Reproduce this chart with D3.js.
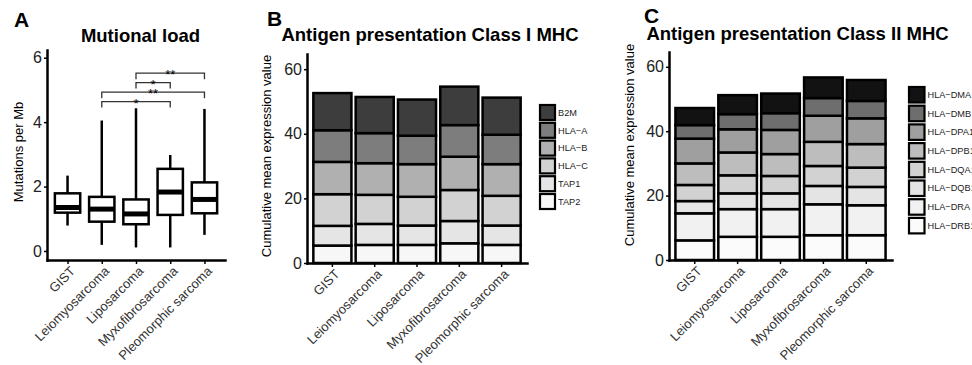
<!DOCTYPE html>
<html>
<head>
<meta charset="utf-8">
<script src="https://cdn.jsdelivr.net/npm/d3@7"></script>
<style>
    body { margin: 0; background: #fff; }
    text { font-family: "Liberation Sans", Arial, sans-serif; }
</style>
</head>
<body>
<svg id="chart" width="972" height="365"></svg>
<script>
const categories = ['GIST', 'Leiomyosarcoma', 'Liposarcoma', 'Myxofibrosarcoma', 'Pleomorphic sarcoma'];

// panel A - box stats, mutations per Mb
const mutLow = [0.79, 0.19, 0.11, 0.11, 0.50];
const mutQ1 = [1.19, 0.91, 0.83, 1.12, 1.17];
const mutMedian = [1.35, 1.30, 1.15, 1.83, 1.60];
const mutQ3 = [1.79, 1.68, 1.60, 2.55, 2.13];
const mutHigh = [2.34, 4.05, 4.43, 2.98, 4.41];
const mutTicks = [0, 2, 4, 6];

const sigFrom = ['Liposarcoma', 'Liposarcoma', 'Leiomyosarcoma', 'Leiomyosarcoma'];
const sigTo = ['Pleomorphic sarcoma', 'Myxofibrosarcoma', 'Pleomorphic sarcoma', 'Myxofibrosarcoma'];
const sigY = [5.52, 5.23, 4.93, 4.64];
const sigLabel = ['**', '*', '**', '*'];

// panel B - class I genes (legend order, top of stack first)
const classOneGenes = ['B2M', 'HLA\u2212A', 'HLA\u2212B', 'HLA\u2212C', 'TAP1', 'TAP2'];
const b2m = [11.5, 11.2, 11.2, 11.9, 11.5];
const hlaA = [9.8, 9.3, 8.8, 9.8, 9.1];
const hlaB = [10.0, 9.8, 10.1, 10.3, 9.8];
const hlaC = [9.8, 9.0, 8.9, 9.6, 9.2];
const tap1 = [6.1, 6.5, 6.0, 6.9, 6.0];
const tap2 = [5.4, 5.6, 5.6, 6.1, 5.6];
const classOneSeries = [b2m, hlaA, hlaB, hlaC, tap1, tap2];
const classOneFill = ['#3d3d3d', '#7d7d7d', '#b0b0b0', '#d2d2d2', '#e5e5e5', '#f7f7f7'];

// panel C - class II genes
const classTwoGenes = ['HLA\u2212DMA', 'HLA\u2212DMB', 'HLA\u2212DPA1', 'HLA\u2212DPB1', 'HLA\u2212DQA1', 'HLA\u2212DQB1', 'HLA\u2212DRA', 'HLA\u2212DRB1'];
const hlaDMA = [5.3, 5.9, 6.1, 6.4, 6.5];
const hlaDMB = [4.2, 4.7, 5.2, 5.5, 5.4];
const hlaDPA1 = [7.7, 7.2, 7.5, 8.1, 8.0];
const hlaDPB1 = [6.7, 7.1, 6.8, 7.5, 7.3];
const hlaDQA1 = [5.0, 5.6, 5.4, 6.2, 6.0];
const hlaDQB1 = [3.8, 4.9, 4.9, 5.7, 5.7];
const hlaDRA = [8.4, 8.6, 8.6, 9.6, 9.3];
const hlaDRB1 = [6.1, 7.2, 7.2, 7.7, 7.7];
const classTwoSeries = [hlaDMA, hlaDMB, hlaDPA1, hlaDPB1, hlaDQA1, hlaDQB1, hlaDRA, hlaDRB1];
const classTwoFill = ['#121212', '#6e6e6e', '#9f9f9f', '#bdbdbd', '#d2d2d2', '#e4e4e4', '#f1f1f1', '#fbfbfb'];

const barTicks = [0, 20, 40, 60];

const svg = d3.select('#chart');
svg.append('rect').attr('width', 972).attr('height', 365).attr('fill', '#fff');

const lineWidth = 2.5;

function styleAxis(g) {
    g.select('.domain')
        .attr('stroke', '#000')
        .attr('stroke-width', lineWidth)
        .attr('stroke-linecap', 'square');
    g.selectAll('.tick line').attr('stroke', '#000').attr('stroke-width', 1.5);
    g.selectAll('.tick text')
        .attr('fill', '#222')
        .style('font-size', '16px');
}

function drawXAxis(x, yPos) {
    const g = svg.append('g')
        .attr('transform', `translate(0, ${yPos})`)
        .call(d3.axisBottom(x).tickSize(4).tickSizeOuter(0));
    styleAxis(g);
    g.selectAll('.tick text')
        .attr('x', 0)
        .attr('y', 0)
        .attr('dy', '0.75em')
        .attr('text-anchor', 'end')
        .attr('transform', 'translate(1, 5) rotate(-45)')
        .attr('fill', '#333')
        .style('font-size', '13px');
}

function drawYAxis(y, xPos, ticks) {
    const g = svg.append('g')
        .attr('transform', `translate(${xPos}, 0)`)
        .call(d3.axisLeft(y).tickValues(ticks).tickFormat(d3.format('d'))
            .tickSize(3).tickPadding(2).tickSizeOuter(0));
    styleAxis(g);
}

function headings(letter, lx, ly, title, tx, ty, yLabel, yx, yy) {
    svg.append('text')
        .attr('x', lx).attr('y', ly)
        .style('font-size', '21px').style('font-weight', 'bold')
        .text(letter);
    svg.append('text')
        .attr('x', tx).attr('y', ty)
        .attr('text-anchor', 'middle')
        .style('font-size', '18.5px').style('font-weight', 'bold')
        .text(title);
    svg.append('text')
        .attr('transform', `translate(${yx}, ${yy}) rotate(-90)`)
        .attr('text-anchor', 'middle')
        .attr('dy', '0.35em')
        .style('font-size', '13px')
        .text(yLabel);
}

// ---- panel A ----
const xA = d3.scalePoint().domain(categories).range([47, 225]).padding(0.6);
const yA = d3.scaleLinear().domain([-0.28, 6.24]).range([260, 50]);
const boxWidth = xA.step() * 0.74;

const boxes = svg.append('g').selectAll('g')
    .data(categories)
    .join('g');

boxes.append('line')
    .attr('x1', d => xA(d)).attr('x2', d => xA(d))
    .attr('y1', (d, i) => yA(mutHigh[i])).attr('y2', (d, i) => yA(mutLow[i]))
    .attr('stroke', '#000').attr('stroke-width', lineWidth);

boxes.append('rect')
    .attr('x', d => xA(d) - boxWidth / 2)
    .attr('width', boxWidth)
    .attr('y', (d, i) => yA(mutQ3[i]))
    .attr('height', (d, i) => yA(mutQ1[i]) - yA(mutQ3[i]))
    .attr('fill', '#fff').attr('stroke', '#000').attr('stroke-width', lineWidth);

boxes.append('line')
    .attr('x1', d => xA(d) - boxWidth / 2).attr('x2', d => xA(d) + boxWidth / 2)
    .attr('y1', (d, i) => yA(mutMedian[i])).attr('y2', (d, i) => yA(mutMedian[i]))
    .attr('stroke', '#000').attr('stroke-width', 5);

const sig = svg.append('g').selectAll('g')
    .data(sigLabel)
    .join('g');

sig.append('path')
    .attr('d', (d, i) => {
        const x1 = xA(sigFrom[i]);
        const x2 = xA(sigTo[i]);
        const y = yA(sigY[i]);
        return `M${x1},${y + 6}V${y}H${x2}V${y + 6}`;
    })
    .attr('fill', 'none').attr('stroke', '#333').attr('stroke-width', 1.3);

sig.append('text')
    .attr('x', (d, i) => (xA(sigFrom[i]) + xA(sigTo[i])) / 2)
    .attr('y', (d, i) => yA(sigY[i]) + 6)
    .attr('text-anchor', 'middle')
    .style('font-size', '13px')
    .attr('fill', '#000')
    .text(d => d);

drawYAxis(yA, 47, mutTicks);
drawXAxis(xA, 260);
headings('A', 14, 27, 'Mutional load', 140.5, 42, 'Mutations per Mb', 18, 152);

// ---- stacked panels ----
function stackedPanel({ genes, series, fills, xRange, yRange, yMax, legendX, legendY, legendStep, swatch }) {
    const rows = categories.map((c, i) => {
        const row = { category: c };
        genes.forEach((g, k) => { row[g] = series[k][i]; });
        return row;
    });
    const keys = genes.slice().reverse();
    const stacked = d3.stack().keys(keys)(rows);
    const fill = d3.scaleOrdinal().domain(genes).range(fills);

    const x = d3.scaleBand().domain(categories).range(xRange).paddingInner(0.1).paddingOuter(0.15);
    const y = d3.scaleLinear().domain([0, yMax]).range(yRange);

    svg.append('g').selectAll('g')
        .data(stacked)
        .join('g')
        .attr('fill', d => fill(d.key))
        .selectAll('rect')
        .data(d => d)
        .join('rect')
        .attr('x', d => x(d.data.category))
        .attr('width', x.bandwidth())
        .attr('y', d => y(d[1]))
        .attr('height', d => y(d[0]) - y(d[1]))
        .attr('stroke', '#000')
        .attr('stroke-width', lineWidth);

    drawYAxis(y, xRange[0], barTicks);
    drawXAxis(x, yRange[0]);

    const legend = svg.append('g').selectAll('g')
        .data(genes)
        .join('g')
        .attr('transform', (d, i) => `translate(${legendX}, ${legendY + i * legendStep})`);
    legend.append('rect')
        .attr('width', swatch).attr('height', swatch)
        .attr('fill', d => fill(d))
        .attr('stroke', '#000').attr('stroke-width', 2.2);
    legend.append('text')
        .attr('x', swatch + 3).attr('y', swatch / 2)
        .attr('dy', '0.35em')
        .style('font-size', '9.2px')
        .attr('fill', '#222')
        .text(d => d);
}

stackedPanel({
    genes: classOneGenes,
    series: classOneSeries,
    fills: classOneFill,
    xRange: [307, 527],
    yRange: [263, 54],
    yMax: 64.7,
    legendX: 540,
    legendY: 105,
    legendStep: 17.8,
    swatch: 15
});
headings('B', 267, 26, 'Antigen presentation Class I MHC', 430, 41, 'Cumulative mean expression value', 266, 156);

stackedPanel({
    genes: classTwoGenes,
    series: classTwoSeries,
    fills: classTwoFill,
    xRange: [669, 892],
    yRange: [260, 52],
    yMax: 64.6,
    legendX: 909,
    legendY: 87,
    legendStep: 18.7,
    swatch: 15.5
});
headings('C', 644, 23, 'Antigen presentation Class II MHC', 797.5, 40, 'Cumulative mean expression value', 629, 145);
</script>
</body>
</html>
